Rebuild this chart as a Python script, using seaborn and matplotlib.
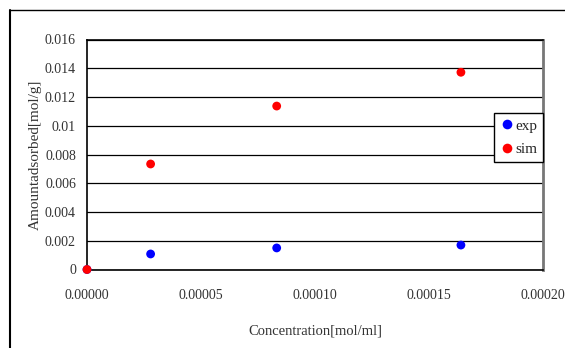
import matplotlib
matplotlib.use("Agg")
import matplotlib.pyplot as plt
import seaborn as sns
import pandas as pd
from matplotlib.lines import Line2D

concentration = [0.0, 0.0000279, 0.0000832, 0.000164]
exp_values = [0.0, 0.00108, 0.0015, 0.0017]
sim_values = [0.0, 0.00734, 0.01137, 0.01372]
x_ticks = [0.0, 0.00005, 0.00010, 0.00015, 0.00020]
x_tick_labels = ["0.00000", "0.00005", "0.00010", "0.00015", "0.00020"]
y_ticks = [0, 0.002, 0.004, 0.006, 0.008, 0.01, 0.012, 0.014, 0.016]
y_tick_labels = ["0", "0.002", "0.004", "0.006", "0.008", "0.01", "0.012", "0.014", "0.016"]

df = pd.DataFrame({
    "Concentration": concentration * 2,
    "Amount": exp_values + sim_values,
    "series": ["exp"] * len(exp_values) + ["sim"] * len(sim_values),
})

sns.set_style("white")
plt.rcParams["font.family"] = ["Liberation Serif", "DejaVu Serif"]

W, H = 565, 348
fig = plt.figure(figsize=(W / 100, H / 100), dpi=100)
ax = fig.add_axes([87 / W, 1 - 269.5 / H, (543 - 87) / W, (269.5 - 39.5) / H])

sns.scatterplot(data=df, x="Concentration", y="Amount", hue="series",
                palette={"exp": "#0000ff", "sim": "#ff0000"},
                s=40, edgecolor="none", ax=ax, clip_on=False, zorder=3)

ax.set_xlim(0, 0.0002)
ax.set_ylim(0, 0.016)
ax.set_xticks(x_ticks)
ax.set_xticklabels(x_tick_labels)
ax.set_yticks(y_ticks)
ax.set_yticklabels(y_tick_labels)
ax.yaxis.grid(True, color="black", linewidth=0.9)
ax.xaxis.grid(False)
ax.set_axisbelow(True)
ax.tick_params(axis="x", direction="in", length=4, width=1, color="black",
               labelsize=10, pad=14, labelcolor="#333333")
ax.tick_params(axis="y", direction="out", length=0, labelsize=10, pad=8,
               labelcolor="#333333")
for side in ["left", "bottom", "top"]:
    ax.spines[side].set_color("black")
    ax.spines[side].set_linewidth(1.2)
ax.spines["right"].set_color("#777777")
ax.spines["right"].set_linewidth(2)

ax.set_xlabel("Concentration[mol/ml]", fontsize=10.5, color="#333333", labelpad=16)
ax.set_ylabel("Amountadsorbed[mol/g]", fontsize=11, color="#333333", labelpad=2)

leg = ax.legend(loc="upper right", bbox_to_anchor=(1.0, 1 - (112.7 - 39.5) / 230),
                frameon=True, fancybox=False, edgecolor="black", fontsize=11,
                handletextpad=0.05, borderpad=0.4, labelspacing=0.65,
                borderaxespad=0, markerscale=1.1, handlelength=0.9)
leg.get_frame().set_linewidth(1.0)
leg.get_frame().set_alpha(1)
leg.set_zorder(5)

fig.add_artist(Line2D([10 / W, 1], [1 - 10 / H, 1 - 10 / H], color="black", linewidth=1))
fig.add_artist(Line2D([10 / W, 10 / W], [0, 1 - 10 / H], color="black", linewidth=1.5))

fig.savefig("out.png", dpi=100, facecolor="white")
